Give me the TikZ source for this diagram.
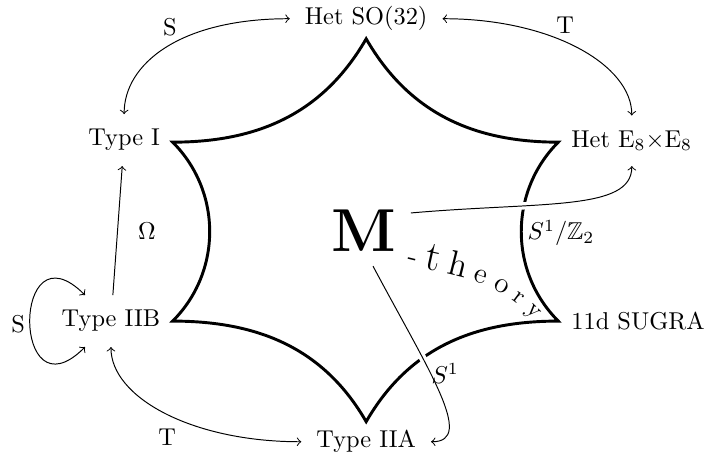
\documentclass[tikz,border=0pt]{standalone}
\usepackage{amsmath}
\usepackage{amssymb}
\usepackage{tikz}
\usetikzlibrary{decorations.text}

\tikzset{
    theo/.style={inner sep=6pt},
    rim/.style={very thick},
    gap/.style={preaction={draw=white,line width=3pt,-}},
}

\begin{document}
\begin{tikzpicture}
    \useasboundingbox (0,0) rectangle (10.18,6.56);
    \coordinate (c1) at (5.28,6.00);
    \coordinate (c2) at (8.05,4.51);
    \coordinate (c3) at (8.05,1.93);
    \coordinate (c4) at (5.28,0.48);
    \coordinate (c5) at (2.49,1.93);
    \coordinate (c6) at (2.49,4.51);
    \draw[rim] (c1) to[out=-60,in=180] (c2) to[out=225,in=135] (c3) to[out=180,in=60] (c4)
        to[out=120,in=0] (c5) to[out=45,in=-45] (c6) to[out=0,in=240] cycle;

    \node[theo] (SO) at (5.28,6.29) {Het SO(32)};
    \node[theo] (E8) at (9.11,4.53) {Het E$_8\times$E$_8$};
    \node[theo] (SG) at (9.20,1.93) {11d SUGRA};
    \node[theo] (IIA) at (5.28,0.19) {Type IIA};
    \node[theo] (IIB) at (1.60,1.93) {Type IIB};
    \node[theo] (I) at (1.79,4.54) {Type I};
    \node[theo] (M) at (5.24,3.24) {\Huge\textbf{M}};
    \path[decorate,decoration={text along path,
        text={|\large|-|\LARGE|t|\Large|h|\large|e|\large|o|\normalsize|r|\normalsize|y},
        text align={fit to path}}]
        (5.86,2.74) to[out=-14,in=133] (7.71,1.95);

    \draw[<->] (I) to[out=90,in=180,out distance=0.72cm,in distance=1.59cm] (SO);
    \draw[<->] (SO) to[out=0,in=90,out distance=1.59cm,in distance=0.72cm] (E8);
    \draw[->] (IIB) -- (I);
    \draw[<->] (IIB) to[out=135,in=225,distance=1.5cm] (IIB);
    \draw[<->] (IIB) to[out=-90,in=180,out distance=0.72cm,in distance=1.59cm] (IIA);
    \draw[->,gap] (M.20) to[out=5,in=-90,out distance=1.9cm,in distance=0.65cm] (E8);
    \draw[->,gap] (M.-75) to[out=-62,in=0,out distance=1.7cm,in distance=0.65cm] (IIA);

    \node (s1) at (2.45,6.17) {S};
    \node (t1) at (8.15,6.20) {T};
    \node (om) at (2.12,3.22) {$\Omega$};
    \node (s2) at (0.26,1.89) {S};
    \node (t2) at (2.41,0.26) {T};
    \node (z2) at (8.09,3.20) {$S^1/\mathbb{Z}_2$};
    \node (s3) at (6.42,1.18) {$S^1$};
\end{tikzpicture}
\end{document}
